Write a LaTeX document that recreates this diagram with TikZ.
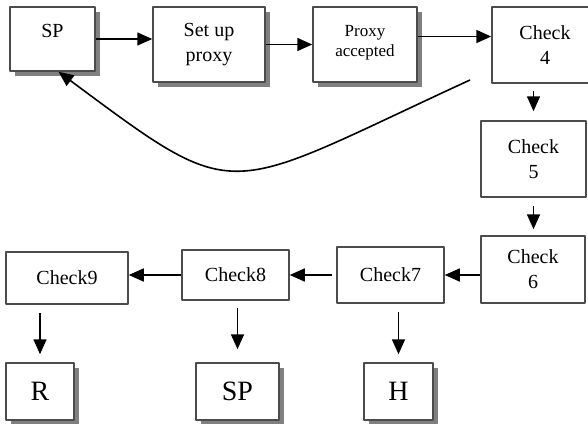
\documentclass[tikz,border=0pt]{standalone}
\usepackage{fontspec}
\setmainfont{Liberation Serif}
\usetikzlibrary{arrows.meta, shadows}

\begin{document}
\begin{tikzpicture}[x=1pt, y=-1pt, line join=round,
    box/.style={draw=black!70, line width=1.5pt, fill=white, align=center,
        inner sep=0pt, font=\fontsize{20}{25}\selectfont},
    shbox/.style={box, drop shadow={shadow xshift=5pt, shadow yshift=-5pt,
        fill=black!50, opacity=1}},
    arr/.style={-{Triangle[length=15pt,width=13pt]}, line width=1.6pt}]

    % Page frame (pixel coordinates of the reference, y pointing down)
    \useasboundingbox (0,0) rectangle (588,423);
    \clip (0,0) rectangle (588,423);

    % Top row
    \node[shbox, minimum width=85pt, minimum height=64pt, text depth=16pt] (SP) at (52.5,39) {SP};
    \node[shbox, minimum width=112pt, minimum height=75pt] (setup) at (209,44.5) {Set up\\proxy};
    \node[shbox, minimum width=104pt, minimum height=75pt, font=\fontsize{17}{20}\selectfont,
        text depth=8pt] (proxy) at (365,44.5) {Proxy\\accepted};
    \node[box, minimum width=106pt, minimum height=76pt] (chk4) at (545,45) {Check\\4};

    % Right column
    \node[box, minimum width=105pt, minimum height=76pt] (chk5) at (533.5,159) {Check\\5};
    \node[box, minimum width=104pt, minimum height=67pt] (chk6) at (533,269.5) {Check\\6};

    % Lower row
    \node[box, minimum width=107pt, minimum height=56pt] (chk7) at (390.5,275) {Check7};
    \node[box, minimum width=107pt, minimum height=50pt] (chk8) at (235.5,275) {Check8};
    \node[box, minimum width=122pt, minimum height=52pt] (chk9) at (67,278) {Check9};

    % Results
    \node[shbox, minimum width=68pt, minimum height=57pt, font=\fontsize{28}{30}\selectfont] (R) at (40,391.5) {R};
    \node[shbox, minimum width=83pt, minimum height=57pt, font=\fontsize{28}{30}\selectfont] (SPb) at (237.5,391.5) {SP};
    \node[shbox, minimum width=69pt, minimum height=57pt, font=\fontsize{28}{30}\selectfont] (H) at (398.5,391.5) {H};

    % Arrows along the chain
    \draw[arr] (SP.east) -- (SP.east -| setup.west);
    \draw[arr] (setup.east) -- (proxy.west);
    \draw[arr] ([yshift=8pt]proxy.east) -- ([yshift=8pt]proxy.east -| chk4.west);
    \draw[arr, shorten <=7pt, shorten >=9pt] (chk4.south -| chk5.north) -- (chk5.north);
    \draw[arr, shorten <=8pt, shorten >=6pt] (chk5.south) -- (chk5.south |- chk6.north);
    \draw[arr] (chk6.west |- chk7.east) -- (chk7.east);
    \draw[arr, shorten <=4pt] (chk7.west) -- (chk8.east);
    \draw[arr] (chk8.west) -- (chk8.west -| chk9.east);

    % Down to the results
    \draw[arr, shorten <=8pt, shorten >=8pt] (chk9.south -| R.north) -- (R.north);
    \draw[arr, shorten <=7pt, shorten >=13pt] (chk8.south -| SPb.north) -- (SPb.north);
    \draw[arr, shorten <=8pt, shorten >=8pt] (chk7.south -| H.north) -- (H.north);

    % Loop back from Check 4 to SP
    \coordinate (back) at (470,80);
    \draw[arr] (back) .. controls (220,195) and (242,208) .. ([xshift=6pt]SP.south);

\end{tikzpicture}
\end{document}
